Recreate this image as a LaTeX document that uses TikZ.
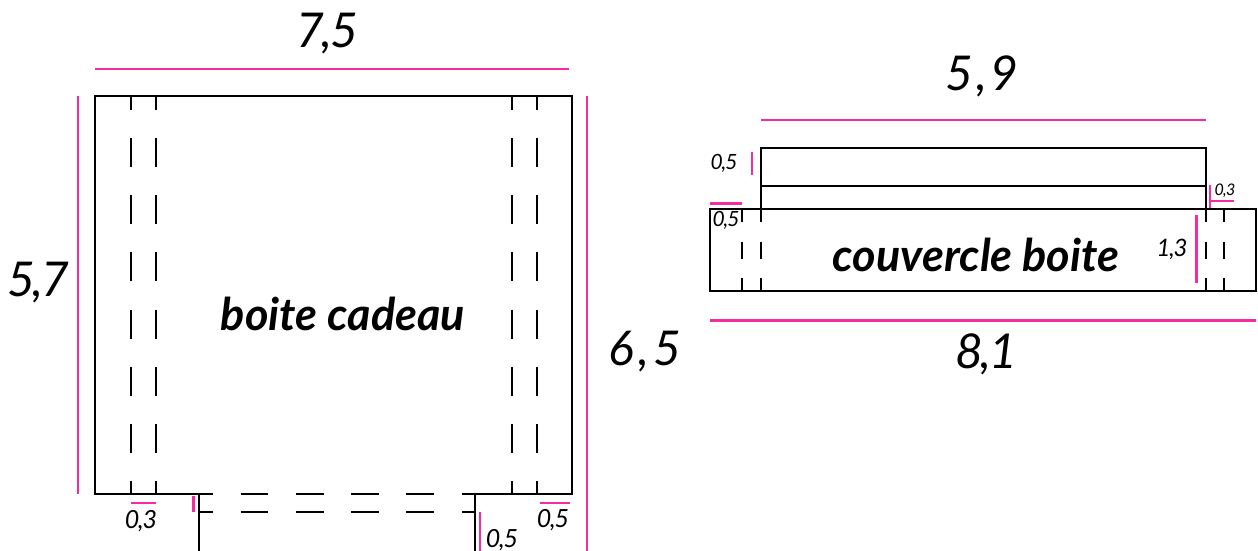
\documentclass[tikz,border=0pt]{standalone}
\usepackage{fontspec}
\setmainfont{Poppins}
\newfontfamily\numfont[LetterSpace=-5]{Lato}
\newfontfamily\handfont{Lato}
\definecolor{dimpink}{HTML}{F52CA0}
\tikzset{
  x=1pt,y=-1pt,
  outline/.style={draw=black,line width=2.8pt,line cap=butt,line join=miter},
  fold/.style={draw=black,line width=2.8pt},
  measure/.style={draw=dimpink,line width=2.5pt},
  num/.style={inner sep=0pt,font=\numfont\itshape\fontsize{#1}{#1}\selectfont},
  title/.style={inner sep=0pt,font=\handfont\itshape\bfseries\fontsize{#1}{#1}\selectfont}
}
\begin{document}
\begin{tikzpicture}
\useasboundingbox (0,0) rectangle (1258,551);
% named corners
\coordinate (tl) at (95,96); \coordinate (tr) at (572,96);
\coordinate (bl) at (95,494); \coordinate (br) at (572,494);
\coordinate (fl) at (199,551); \coordinate (fr) at (475,551);
\coordinate (flt) at (199,494); \coordinate (frt) at (475,494);
% left box
\draw[outline] (213,494) -- (bl) -- (tl) -- (tr) -- (br) -- (462,494);
\draw[outline] (flt) -- (fl);
\draw[outline] (frt) -- (fr);
\draw[outline] (199,512) -- (213,512);
\draw[outline] (462,512) -- (475,512);
\foreach \yy in {494,512}{
  \foreach \xa/\xb in {240.5/268,296/324,351/379,406/434}{
    \draw[fold] (\xa,\yy) -- (\xb,\yy);
  }
}
\foreach \xx in {131,156,512,537}{
  \draw[fold] (\xx,96) -- (\xx,109.5);
  \foreach \ya in {137.5,195,252.3,309.6,366.9,424.2}{
    \draw[fold] (\xx,\ya) -- (\xx,\ya+29);
  }
  \draw[fold] (\xx,481) -- (\xx,494);
}
% left measures
\draw[measure] (95,69) -- (569,69);
\draw[measure] (78,96) -- (78,494);
\draw[measure] (587,96) -- (587,551);
\draw[measure] (131,503) -- (156,503);
\draw[measure] (193.7,496) -- (193.7,512);
\draw[measure] (480,512) -- (480,551);
\draw[measure] (540,503) -- (570,503);
% right box
\draw[outline] (761,209) -- (761,148) -- (1206,148) -- (1206,209);
\draw[outline] (761,186) -- (1206,186);
\draw[outline] (710,209) rectangle (1256,291);
\foreach \xx in {742,761,1206,1224}{
  \draw[fold] (\xx,209) -- (\xx,222);
  \draw[fold] (\xx,241.5) -- (\xx,259);
  \draw[fold] (\xx,278) -- (\xx,291);
}
% right measures
\draw[measure] (761,120) -- (1206,120);
\draw[measure] (710,320.5) -- (1256,320.5);
\draw[measure] (752,152) -- (752,175);
\draw[measure] (710,203.5) -- (742,203.5);
\draw[measure] (1210,185) -- (1210,208);
\draw[measure] (1210,201) -- (1234,201);
\draw[measure] (1196.5,215) -- (1196.5,283);
% labels
\node[num=48] (a) at (327,34) {7,5};
\node[num=48] (b) at (38,283) {5,7};
\node[num=48] (c) at (645,352) {6\kern4pt,\kern4pt5};
\node[num=48] (d) at (982,76) {5\kern3pt,\kern3pt9};
\node[num=48] (e) at (986,354) {8,1};
\node[num=25] (f) at (141,521) {0,3};
\node[num=25] (g) at (553,520) {0,5};
\node[num=25] (h) at (502,540) {0,5};
\node[num=21] (i) at (724,163) {0,5};
\node[num=21] (j) at (726,220) {0,5};
\node[num=16] (k) at (1225,191) {0,3};
\node[num=24] (l) at (1172,249) {1,3};
\node[title=45] (m) at (343,314) {boite cadeau};
\node[title=45] (n) at (976,255) {couvercle boite};
\end{tikzpicture}
\end{document}
